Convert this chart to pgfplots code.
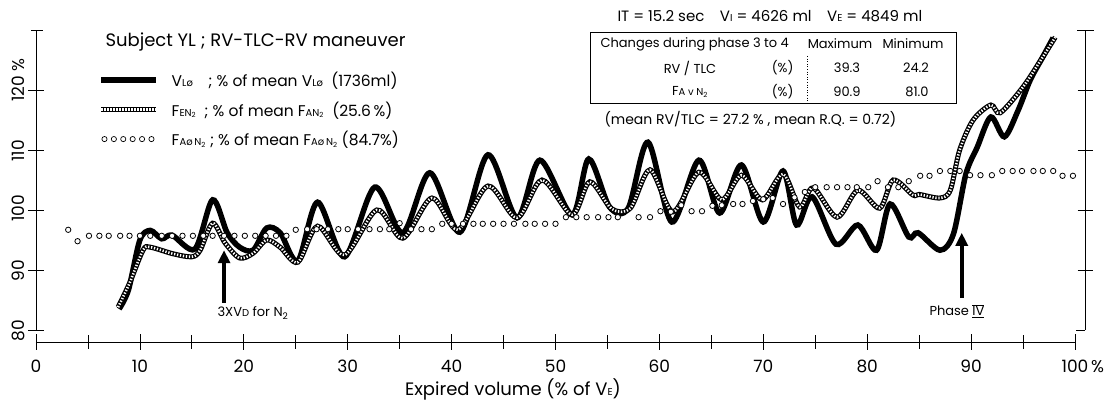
\documentclass[border=0pt]{standalone}
\usepackage{fontspec}
\setmainfont{Poppins}
\usepackage{pgfplots}
\pgfplotsset{compat=1.18}
\usetikzlibrary{arrows.meta}
\newcommand\sm[1]{{\fontsize{10}{10}\selectfont #1}}
\tikzset{striped/.style={black, line width=5pt, postaction={draw, white, line width=2.6pt, dash pattern=on 1.3pt off 1.7pt}},
  oc/.style={black, line width=0.7pt, fill=white}}
\begin{document}
\begin{tikzpicture}
\path[use as bounding box] (-36pt,-61pt) rectangle (1082pt,342pt);
\begin{axis}[
 at={(0pt,0pt)}, anchor=south west,
 scale only axis, width=1039pt, height=312pt,
 xmin=0, xmax=100, ymin=78, ymax=130,
 axis x line*=bottom, axis y line*=left,
 y axis line style={draw=none},
 x axis line style={line width=0.8pt},
 clip=false,
 xtick={0,10,...,100},
 xticklabels={0,10,20,30,40,50,60,70,80,90,100\rlap{\,\%}},
 minor xtick={5,15,...,95},
 ytick={80,90,100,110,120},
 yticklabels={80,90,100,110,120\rlap{\ \%}},
 tick align=center,
 major tick length=16pt, minor tick length=14pt,
 tick style={black, line width=0.7pt},
 tick label style={font=\fontsize{17}{17}\selectfont},
 xticklabel style={yshift=-6pt},
 yticklabel style={rotate=90, anchor=south west, xshift=-15pt},
 legend style={at={(axis description cs:0.0597,0.872)}, anchor=north west, draw=none, fill=none, inner sep=0pt,
   font=\fontsize{15.5}{15.5}\selectfont, row sep=9.5pt, /tikz/every odd column/.append style={column sep=10pt}},
 legend cell align=left,
]
\addplot[black, line width=5.5pt, smooth, tension=0.5,
  legend image code/.code={\draw[black, line width=6.5pt] (0pt,0pt) -- (55pt,0pt);}] coordinates {
(8.0,83.5) (8.9,86.7) (10.0,95.0) (11.0,96.6) (12.1,95.2) (13.1,95.8) (15.3,93.5) (17.0,101.7) (18.4,96.2) (19.6,93.8) (20.9,93.3) (22.2,97.0) (23.5,96.2) (25.2,91.5) (27.1,101.3) (29.7,92.2) (32.6,103.8) (35.3,96.2) (37.9,106.2) (40.8,96.3) (43.5,109.2) (46.3,98.7) (48.5,108.3) (51.6,99.2) (53.2,108.5) (55.2,100.5) (57.0,100.3) (58.9,111.3) (61.2,98.0) (63.8,108.3) (65.8,99.5) (67.9,107.5) (70.0,98.0) (71.9,106.5) (73.2,97.5) (74.7,102.2) (77.0,94.3) (79.1,97.5) (80.9,93.3) (82.2,101.0) (84.0,95.5) (84.9,96.2) (87.0,93.3) (88.3,96.0) (89.5,106.0) (90.6,110.5) (91.9,115.5) (93.2,112.2) (94.5,116.5) (95.7,121.7) (96.9,125.5) (97.9,128.7)
};
\addlegendentry{V\sm{L\o}\quad ;\ \% of mean V\sm{L\o}\ \ (1736ml)}
\addplot[striped, smooth, tension=0.5,
  legend image code/.code={\draw[striped] (0pt,0pt) -- (55pt,0pt);}] coordinates {
(7.9,83.8) (9.0,87.8) (10.3,93.3) (11.0,93.8) (13.2,92.7) (15.0,92.2) (15.8,93.3) (17.0,97.8) (18.2,94.5) (19.6,92.0) (20.9,92.8) (22.2,95.0) (23.5,93.8) (25.2,91.3) (27.1,97.3) (29.7,92.5) (32.8,100.0) (35.3,95.3) (38.1,102.0) (40.6,96.7) (43.5,104.0) (46.3,98.7) (48.7,105.0) (51.6,99.2) (53.3,104.7) (55.4,100.2) (57.2,100.3) (59.1,106.7) (61.3,99.7) (63.8,106.3) (66.0,101.7) (67.9,105.8) (69.9,101.7) (71.9,106.0) (73.5,100.5) (74.8,103.7) (77.1,98.8) (79.1,103.3) (81.2,100.3) (82.5,105.0) (84.4,102.5) (85.0,102.6) (87.0,102.0) (88.0,103.3) (88.9,110.0) (90.2,115.0) (91.9,117.5) (92.8,116.2) (95.0,120.5) (96.9,125.5) (98.1,128.8)
};
\addlegendentry{F\sm{EN\textsubscript{2}}\ \ ;\ \% of mean F\sm{AN\textsubscript{2}}\ \ (25.6\,\%)}
\addplot[only marks, mark=*, mark size=2.7pt, mark options={draw=black, fill=white, line width=0.8pt},
  legend image code/.code={\draw[oc] (3pt,0pt) circle (2.6pt); \draw[oc] (12.4pt,0pt) circle (2.6pt); \draw[oc] (21.8pt,0pt) circle (2.6pt); \draw[oc] (31.2pt,0pt) circle (2.6pt); \draw[oc] (40.6pt,0pt) circle (2.6pt); \draw[oc] (50pt,0pt) circle (2.6pt);}] coordinates {
(3.1,96.7) (4.0,94.8) (5.1,95.7) (6.1,95.7) (7.0,95.7) (8.1,95.7) (9.0,95.7) (10.0,95.7) (11.0,95.7) (12.1,95.7) (13.1,95.7) (14.1,95.7) (15.1,95.7) (16.1,95.7) (17.0,95.7) (18.1,95.7) (19.1,95.7) (20.1,95.7) (21.1,95.7) (22.1,95.7) (23.1,95.7) (24.1,95.7)
(25.0,96.7) (26.1,96.8) (27.0,96.8) (28.1,96.8) (29.1,96.8) (30.0,96.8) (31.0,96.8) (32.1,96.8) (33.1,96.8) (34.0,96.8) (35.0,97.8) (36.1,96.8) (37.1,96.8) (38.1,96.8)
(39.1,97.7) (40.0,97.7) (41.1,97.7) (42.1,97.7) (43.0,97.7) (44.0,97.7) (45.0,97.7) (46.0,97.7) (47.1,97.7) (48.0,97.7) (49.0,97.7) (50.0,97.7)
(51.0,98.8) (52.0,98.8) (53.0,98.8) (54.1,98.8) (55.1,98.8) (56.0,98.8) (58.0,98.8) (59.1,98.8)
(60.1,99.8) (61.1,99.7) (62.1,100.8) (63.1,99.8) (64.1,99.8) (65.1,100.7) (66.0,100.8) (67.1,101.0) (68.0,101.0) (69.0,101.5) (70.0,101.8) (70.9,102.0) (71.9,101.0) (73.0,102.1) (74.0,103.0)
(75.0,103.8) (76.1,103.8) (77.1,103.8) (78.1,103.8) (79.0,103.8) (80.1,103.8) (81.0,104.8) (82.0,103.8) (83.0,103.8) (84.0,104.8) (85.1,105.7) (86.0,105.7) (87.0,106.5) (88.0,106.5) (88.9,106.5) (89.9,105.8) (90.9,105.8) (92.0,105.8) (93.0,106.5) (94.0,106.5) (94.9,106.5) (96.0,106.5) (96.9,106.5) (97.9,106.5) (98.8,105.7) (99.8,105.7)
};
\addlegendentry{F\sm{A\o\,N\textsubscript{2}}\ ;\ \% of mean F\sm{A\o\,N\textsubscript{2}} (84.7\%)}
\draw[line width=0.8pt] (axis cs:0,80) -- (axis cs:0,130);
\draw[line width=0.8pt] (axis cs:-0.5,130) -- (axis cs:0.7,130);
\draw[line width=0.8pt] (axis cs:101,80) -- (axis cs:101,130);
\draw[line width=0.8pt] (axis cs:100.2,130) -- (axis cs:101.8,130);
\draw[line width=0.8pt] (axis cs:100.1,80) -- (axis cs:101,80);
\draw[line width=0.7pt] (axis cs:100.25,90) -- (axis cs:101.75,90);
\draw[line width=0.7pt] (axis cs:100.25,100) -- (axis cs:101.75,100);
\draw[line width=0.7pt] (axis cs:100.25,110) -- (axis cs:101.75,110);
\draw[line width=0.7pt] (axis cs:100.25,120) -- (axis cs:101.75,120);
\draw[line width=4pt, -{Triangle[length=13pt,width=12pt]}] (axis cs:18.1,84.5) -- (axis cs:18.1,93.3);
\draw[line width=4pt, -{Triangle[length=13pt,width=12pt]}] (axis cs:89.1,85.3) -- (axis cs:89.1,96.2);
\end{axis}
\node[anchor=west, font=\fontsize{18}{18}\selectfont] at (66pt,300pt) {Subject YL ; RV-TLC-RV maneuver};
\node[anchor=west, font=\fontsize{15}{15}\selectfont] at (578pt,326pt) {IT = 15.2 sec \enspace\ V\sm{I} = 4626 ml \enspace\ V\sm{E} = 4849 ml};
\draw[line width=0.6pt] (554pt,310pt) rectangle (920pt,239pt);
\draw[line width=0.6pt, dotted] (771pt,286pt) -- (771pt,239pt);
\begin{scope}[every node/.style={font=\fontsize{13}{13}\selectfont}]
\node[anchor=west] at (561pt,298pt) {Changes during phase 3 to 4};
\node at (804pt,298pt) {Maximum};
\node at (877pt,298pt) {Minimum};
\node at (654pt,274pt) {RV / TLC};
\node[anchor=east] at (761pt,274pt) {(\%)};
\node at (811pt,274pt) {39.3};
\node at (880pt,274pt) {24.2};
\node at (654pt,250pt) {F\sm{A v N\textsubscript{2}}};
\node[anchor=east] at (761pt,250pt) {(\%)};
\node at (811pt,250pt) {90.9};
\node at (881pt,250pt) {81.0};
\end{scope}
\node[anchor=west, font=\fontsize{14}{14}\selectfont] at (565pt,223pt) {(mean RV/TLC = 27.2 \% , mean R.Q. = 0.72)};
\node[font=\fontsize{13}{13}\selectfont] at (217pt,29pt) {3XV\sm{D} for N\textsubscript{2}};
\node[font=\fontsize{13}{13}\selectfont] at (921pt,31pt) {Phase $\overline{\underline{\mbox{IV}}}$};
\node[font=\fontsize{18}{18}\selectfont] at (477pt,-47pt) {Expired volume (\% of V\sm{E})};
\end{tikzpicture}
\end{document}
